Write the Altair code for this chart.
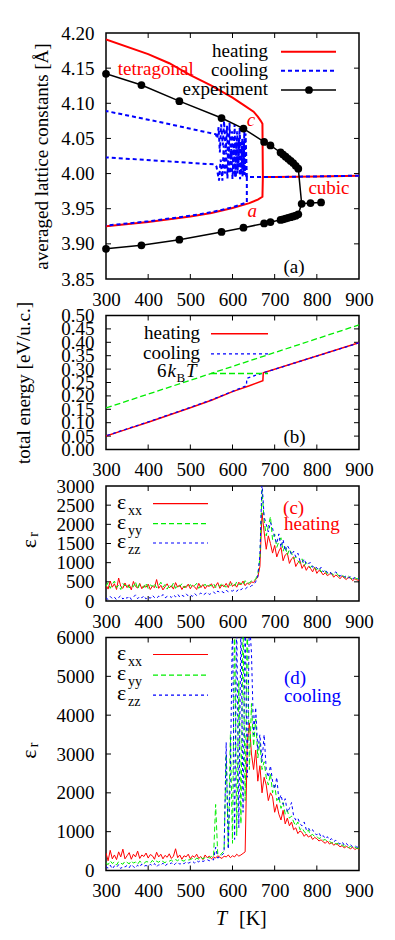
import altair as alt
import pandas as pd

FONT = "Liberation Serif"
W = 253
HA, HB, HC, HD = 246, 134, 115, 233
RED, GREEN, BLUE, BLACK = "#ff0000", "#00ee00", "#0000ff", "#000000"
TICK = 5

# ---------------- tick values ----------------
T_TICKS = [300, 400, 500, 600, 700, 800, 900]
A_TICKS = [3.85, 3.90, 3.95, 4.00, 4.05, 4.10, 4.15, 4.20]
B_TICKS = [0.00, 0.05, 0.10, 0.15, 0.20, 0.25, 0.30, 0.35, 0.40, 0.45, 0.50]
C_TICKS = [0, 500, 1000, 1500, 2000, 2500, 3000]
D_TICKS = [0, 1000, 2000, 3000, 4000, 5000, 6000]

# ---------------- panel (a): lattice constants ----------------
HEAT_C_T = [300, 400, 450, 500, 550, 600, 625, 650, 660, 667, 671, 672, 700, 800, 900]
HEAT_C_V = [4.191, 4.170, 4.157, 4.140, 4.125, 4.108, 4.098, 4.088, 4.081, 4.075, 4.071, 3.995, 3.995, 3.996, 3.997]
HEAT_A_T = [300, 400, 500, 550, 600, 640, 660, 671, 672]
HEAT_A_V = [3.925, 3.931, 3.939, 3.944, 3.951, 3.958, 3.963, 3.967, 3.995]

COOL_1_T = [634, 630, 628, 626, 623, 620, 617, 614, 611, 608, 605, 602, 599, 596, 593, 590,
            587, 584, 580, 577, 573, 570, 567, 564, 560, 430, 300]
COOL_1_V = [3.995, 4.000, 4.060, 4.000, 4.050, 3.998, 4.065, 4.010, 4.060, 3.995, 4.070, 4.000,
            4.060, 4.020, 4.072, 4.000, 4.068, 4.030, 4.075, 4.040, 4.070, 4.030, 4.066, 4.050,
            4.056, 4.073, 4.089]
COOL_2_T = [634, 631, 629, 627, 624, 621, 618, 615, 612, 609, 606, 603, 600, 597, 594, 591,
            588, 585, 582, 579, 576, 572, 568, 565, 562, 558, 430, 300]
COOL_2_V = [3.995, 4.057, 3.998, 4.045, 3.995, 4.040, 3.992, 4.050, 4.000, 4.045, 3.995, 4.040,
            3.992, 4.035, 4.000, 4.045, 3.993, 4.030, 4.000, 4.040, 3.990, 4.020, 3.990, 4.000,
            4.010, 4.013, 4.018, 4.023]
COOL_3_T = [900, 800, 700, 634, 634, 600, 550, 500, 400, 300]
COOL_3_V = [3.997, 3.996, 3.995, 3.995, 3.959, 3.952, 3.945, 3.940, 3.932, 3.926]

EXP_UP_T = [300, 384, 474, 574, 626, 675, 690, 714, 720, 726, 732, 738, 744, 750, 756]
EXP_UP_V = [4.142, 4.126, 4.103, 4.079, 4.064, 4.045, 4.040, 4.030, 4.027, 4.024, 4.021, 4.018, 4.015, 4.011, 4.007]
EXP_LO_T = [300, 384, 474, 574, 626, 675, 690, 714, 720, 726, 732, 738, 744, 750, 756]
EXP_LO_V = [3.893, 3.898, 3.906, 3.917, 3.923, 3.929, 3.931, 3.934, 3.935, 3.936, 3.937, 3.938, 3.939, 3.940, 3.942]
EXP_CUB_T = [764, 785, 810]
EXP_CUB_V = [3.957, 3.958, 3.959]

# ---------------- panel (b): total energy ----------------
E_HEAT_T = [300, 350, 400, 450, 500, 550, 600, 640, 672, 673, 900]
E_HEAT_V = [0.050, 0.076, 0.102, 0.129, 0.156, 0.184, 0.216, 0.238, 0.257, 0.286, 0.398]
E_COOL_T = [900, 673, 634, 633, 600, 550, 500, 450, 400, 350, 300]
E_COOL_V = [0.398, 0.286, 0.266, 0.238, 0.217, 0.185, 0.157, 0.130, 0.103, 0.077, 0.051]
E_KT_T = [300, 900]
E_KT_V = [0.155, 0.465]

# ---------------- panels (c), (d): dielectric constants ----------------
T_EPS = list(range(300, 905, 5))

C_XX = [420, 310, 520, 360, 450, 300, 600, 380, 330, 470,
        350, 430, 290, 510, 380, 340, 460, 320, 400, 360,
        440, 300, 390, 350, 560, 330, 410, 290, 370, 450,
        340, 400, 310, 480, 360, 420, 300, 390, 350, 440,
        320, 410, 370, 300, 460, 350, 430, 320, 400, 380,
        450, 340, 390, 480, 330, 420, 370, 460, 350, 510,
        380, 440, 360, 490, 420, 520, 400, 470, 430, 500,
        480, 560, 620, 900, 2300, 1800, 1350, 1700, 1500, 1250,
        1450, 1150, 1300, 1400, 1050, 1200, 1250, 980, 1100, 1150,
        900, 1000, 1050, 850, 950, 800, 900, 850, 760, 880,
        720, 800, 760, 680, 740, 660, 700, 720, 620, 680,
        640, 580, 650, 600, 560, 620, 590, 530, 580, 550,
        540]
C_YY = [380, 480, 330, 440, 520, 350, 410, 300, 460, 390,
        450, 340, 420, 370, 500, 310, 440, 390, 350, 470,
        330, 420, 380, 460, 340, 400, 490, 360, 430, 310,
        410, 360, 470, 330, 420, 380, 450, 340, 400, 370,
        430, 350, 400, 460, 330, 410, 380, 440, 360, 420,
        390, 460, 350, 420, 380, 470, 400, 360, 440, 410,
        460, 390, 500, 420, 470, 410, 530, 450, 480, 520,
        510, 580, 700, 1100, 2900, 2100, 1700, 1950, 2200, 1600,
        1750, 1400, 1550, 1650, 1300, 1450, 1200, 1350, 1250, 1100,
        1150, 1050, 980, 1100, 920, 1000, 950, 870, 930, 850,
        820, 880, 760, 800, 780, 700, 760, 720, 680, 730,
        690, 620, 660, 640, 590, 650, 600, 560, 610, 580,
        580]
C_ZZ = [80, 40, 120, 60, 100, 30, 90, 140, 50, 110,
        70, 130, 40, 100, 160, 60, 120, 80, 140, 50,
        110, 70, 150, 90, 60, 130, 100, 170, 80, 120,
        140, 90, 160, 110, 180, 100, 150, 120, 190, 130,
        160, 120, 200, 140, 170, 210, 150, 190, 230, 170,
        200, 240, 180, 260, 220, 250, 210, 280, 240, 270,
        260, 300, 250, 320, 290, 340, 310, 360, 350, 400,
        420, 500, 650, 1200, 3100, 2200, 2000, 1800, 2050, 1900,
        1650, 1500, 1750, 1400, 1600, 1300, 1450, 1350, 1200, 1300,
        1150, 1250, 1050, 1000, 1100, 950, 980, 1000, 880, 920,
        860, 800, 880, 760, 820, 740, 780, 700, 720, 760,
        700, 650, 680, 620, 660, 600, 640, 580, 610, 590,
        580]

D_XX = [450, 250, 520, 300, 400, 280, 480, 350, 550, 300,
        380, 460, 290, 420, 350, 500, 310, 400, 360, 450,
        320, 410, 380, 290, 470, 350, 420, 300, 390, 340,
        430, 310, 370, 560, 330, 400, 290, 380, 350, 420,
        300, 380, 340, 420, 310, 360, 280, 400, 330, 370,
        300, 350, 320, 380, 340, 310, 370, 350, 400, 330,
        380, 350, 420, 370, 400, 440, 480, 3300, 3800, 3000,
        2600, 3100, 2300, 2700, 2000, 2400, 2200, 1800, 2000, 1900,
        1500, 1700, 1450, 1300, 1550, 1200, 1350, 1150, 1250, 1050,
        1100, 950, 1020, 980, 880, 940, 860, 900, 800, 850,
        820, 760, 790, 740, 700, 760, 680, 720, 650, 690,
        660, 610, 640, 580, 620, 590, 560, 600, 540, 570,
        550]
D_YY = [200, 150, 250, 180, 220, 140, 230, 190, 160, 240,
        210, 170, 250, 190, 220, 160, 240, 200, 180, 230,
        220, 190, 260, 200, 240, 210, 270, 230, 200, 250,
        240, 270, 220, 280, 250, 300, 260, 240, 290, 270,
        280, 310, 260, 320, 290, 340, 300, 330, 350, 320,
        360, 340, 1700, 420, 380, 450, 500, 3000, 600, 3500,
        700, 6500, 900, 4900, 1200, 6500, 1800, 6500, 2600, 4300,
        3200, 3900, 2900, 3300, 2600, 2800, 2400, 2200, 2500, 2000,
        2200, 1800, 1900, 1600, 1750, 1450, 1550, 1350, 1400, 1250,
        1150, 1250, 1050, 1100, 1000, 950, 1050, 900, 930, 870,
        880, 820, 850, 780, 800, 740, 760, 700, 740, 680,
        700, 640, 660, 620, 650, 590, 620, 580, 600, 570,
        580]
D_ZZ = [100, 60, 140, 40, 120, 80, 150, 50, 110, 90,
        130, 70, 160, 100, 60, 140, 90, 170, 110, 130,
        100, 160, 120, 180, 90, 150, 130, 190, 110, 170,
        150, 200, 130, 180, 220, 160, 200, 170, 230, 190,
        210, 240, 190, 250, 220, 270, 230, 260, 280, 250,
        290, 270, 600, 320, 350, 400, 450, 3300, 550, 2500,
        6500, 800, 6500, 1100, 6500, 1500, 6500, 2400, 6500, 5600,
        3500, 4200, 3100, 3500, 2800, 3500, 2600, 2400, 2700, 2300,
        2100, 2400, 1800, 1950, 1700, 1850, 1500, 1600, 1750, 1400,
        1300, 1350, 1200, 1150, 1250, 1050, 1100, 1000, 1050, 950,
        920, 980, 860, 900, 820, 870, 780, 820, 740, 780,
        720, 680, 740, 650, 700, 630, 660, 610, 640, 600,
        600]

# annotations (label, T, value)
ANN_A = [("tetragonal", 328, 4.140), ("cubic", 780, 3.971)]
ANN_A_IT = [("c", 644, 4.067), ("a", 647, 3.938)]
ANN_A_TAG = [("(a)", 746, 3.858)]
ANN_B_TAG = [("(b)", 747, 0.024)]
ANN_C = [("(c)", 720, 2277), ("heating", 722, 1844)]
ANN_D = [("(d)", 722, 4815), ("cooling", 722, 4344)]

# ---------------- helpers ----------------
XS = alt.Scale(domain=[300, 900], nice=False, zero=False)
ONE = pd.DataFrame({"d": [0]})
LFS = 19

XA = alt.Axis(values=T_TICKS, format="d", ticks=False, domain=False, grid=False,
              labelFont=FONT, labelFontSize=LFS, labelColor="black", labelPadding=11,
              labelFlush=False, labelOverlap=False, title=None)


def yaxis(values, fmt, title=None, tpad=0):
    kw = dict(values=values, format=fmt, ticks=False, domain=False, grid=False,
              labelFont=FONT, labelFontSize=LFS, labelColor="black", labelPadding=12,
              labelOverlap=False, labelFlush=False)
    if title is not None:
        kw.update(title=title, titleFont=FONT, titleFontSize=19, titleFontWeight="normal",
                  titleColor="black", titlePadding=tpad)
    else:
        kw.update(title=None)
    return alt.Axis(**kw)


def series(T, v, name):
    return pd.DataFrame({"T": T, "v": v, "s": name, "i": list(range(len(T)))})


def line(df, ys, ya, color, width, dash=None):
    kw = dict(color=color, strokeWidth=width, clip=True)
    if dash:
        kw["strokeDash"] = dash
    return alt.Chart(df).mark_line(**kw).encode(
        x=alt.X("T:Q", scale=XS, axis=XA),
        y=alt.Y("v:Q", scale=ys, axis=ya),
        order="i:Q", detail="s:N")


def ticks(ys, ya, yvals, H):
    xt = pd.DataFrame({"T": T_TICKS[1:-1]})
    yt = pd.DataFrame({"v": yvals[1:-1]})
    X = alt.X("T:Q", scale=XS, axis=XA)
    Y = alt.Y("v:Q", scale=ys, axis=ya)
    r = dict(color="black", strokeWidth=1)
    return [
        alt.Chart(xt).mark_rule(**r).encode(x=X, y=alt.value(H), y2=alt.value(H - TICK)),
        alt.Chart(xt).mark_rule(**r).encode(x=X, y=alt.value(0), y2=alt.value(TICK)),
        alt.Chart(yt).mark_rule(**r).encode(y=Y, x=alt.value(0), x2=alt.value(TICK)),
        alt.Chart(yt).mark_rule(**r).encode(y=Y, x=alt.value(W - TICK), x2=alt.value(W)),
    ]


def ptext(txt, x, y, size=19, align="right", color="black", style="normal", angle=0, baseline="alphabetic"):
    return alt.Chart(ONE).mark_text(text=txt, align=align, baseline=baseline, font=FONT, fontSize=size,
                                    color=color, fontStyle=style, angle=angle).encode(
        x=alt.value(x), y=alt.value(y))


def pline(x1, x2, y, color, width, dash=None):
    kw = dict(color=color, strokeWidth=width)
    if dash:
        kw["strokeDash"] = dash
    return alt.Chart(ONE).mark_rule(**kw).encode(x=alt.value(x1), x2=alt.value(x2), y=alt.value(y))


def dtext(items, ys, ya, color, size=19, align="left", style="normal"):
    df = pd.DataFrame({"t": [a[0] for a in items], "T": [a[1] for a in items], "v": [a[2] for a in items]})
    return alt.Chart(df).mark_text(align=align, baseline="alphabetic", font=FONT, fontSize=size,
                                   color=color, fontStyle=style).encode(
        x=alt.X("T:Q", scale=XS, axis=XA), y=alt.Y("v:Q", scale=ys, axis=ya), text="t:N")


# ---------------- panel (a) ----------------
YS_A = alt.Scale(domain=[3.85, 4.20], nice=False, zero=False)
YA_A = yaxis(A_TICKS, ".2f", "averaged lattice constants [Å]", 9)
heat_a = pd.concat([series(HEAT_C_T, HEAT_C_V, "c"), series(HEAT_A_T, HEAT_A_V, "a")])
cool_a = pd.concat([series(COOL_1_T, COOL_1_V, "1"), series(COOL_2_T, COOL_2_V, "2"),
                    series(COOL_3_T, COOL_3_V, "3")])
exp_line = pd.concat([series(EXP_UP_T + EXP_CUB_T[:1], EXP_UP_V + EXP_CUB_V[:1], "up"),
                      series(EXP_LO_T + EXP_CUB_T, EXP_LO_V + EXP_CUB_V, "lo")])
exp_pts = pd.DataFrame({"T": EXP_UP_T + EXP_LO_T + EXP_CUB_T, "v": EXP_UP_V + EXP_LO_V + EXP_CUB_V})

pa = alt.layer(
    *ticks(YS_A, YA_A, A_TICKS, HA),
    line(heat_a, YS_A, YA_A, RED, 2),
    line(cool_a, YS_A, YA_A, BLUE, 2, [4, 3]),
    line(exp_line, YS_A, YA_A, BLACK, 1.5),
    alt.Chart(exp_pts).mark_circle(color=BLACK, size=60, opacity=1).encode(
        x=alt.X("T:Q", scale=XS, axis=XA), y=alt.Y("v:Q", scale=YS_A, axis=YA_A)),
    dtext(ANN_A, YS_A, YA_A, RED),
    dtext(ANN_A_IT, YS_A, YA_A, RED, align="center", style="italic"),
    dtext(ANN_A_TAG, YS_A, YA_A, BLACK, align="center"),
    ptext("heating", 162, 24), pline(175, 230, 18.7, RED, 2),
    ptext("cooling", 162, 43), pline(175, 230, 37.7, BLUE, 2, [4, 3]),
    ptext("experiment", 162, 62), pline(175, 230, 57, BLACK, 1.5),
    alt.Chart(ONE).mark_circle(color=BLACK, size=60, opacity=1).encode(x=alt.value(203), y=alt.value(57)),
).properties(width=W, height=HA)

# ---------------- panel (b) ----------------
YS_B = alt.Scale(domain=[0, 0.5], nice=False, zero=False)
YA_B = yaxis(B_TICKS, ".2f", "total energy [eV/u.c.]", 27)
pb = alt.layer(
    *ticks(YS_B, YA_B, B_TICKS, HB),
    line(series(E_KT_T, E_KT_V, "kt"), YS_B, YA_B, GREEN, 1.3, [6, 3]),
    line(series(E_HEAT_T, E_HEAT_V, "h"), YS_B, YA_B, RED, 1.5),
    line(series(E_COOL_T, E_COOL_V, "c"), YS_B, YA_B, BLUE, 1.3, [3, 3]),
    dtext(ANN_B_TAG, YS_B, YA_B, BLACK, align="center"),
    ptext("heating", 94, 23.3), pline(105, 162, 18.3, RED, 1.5),
    ptext("cooling", 94, 43.3), pline(105, 162, 38.3, BLUE, 1.3, [3, 3]),
    ptext("6", 51, 61, align="left"), ptext("k", 61.5, 61, align="left", style="italic"),
    ptext("B", 70.5, 66, size=13, align="left"), ptext("T", 80, 61, align="left", style="italic"),
    pline(105, 162, 58, GREEN, 1.3, [6, 3]),
).properties(width=W, height=HB)


# ---------------- panels (c), (d) ----------------
def eps_panel(xx, yy, zz, ys, yvals, H, ann, ann_color, rows, samp, extra=()):
    ya = yaxis(yvals, "d")
    layers = list(ticks(ys, ya, yvals, H))
    layers += [
        line(series(T_EPS, xx, "xx"), ys, ya, RED, 1),
        line(series(T_EPS, yy, "yy"), ys, ya, GREEN, 1, [5, 3]),
        line(series(T_EPS, zz, "zz"), ys, ya, BLUE, 1, [3, 3]),
        dtext(ann, ys, ya, ann_color),
    ]
    subs = ["xx", "yy", "zz"]
    cols = [(RED, None), (GREEN, [5, 3]), (BLUE, [3, 3])]
    for k in range(3):
        layers.append(ptext("ε", 11, rows[k], size=22, align="left"))
        layers.append(ptext(subs[k], 22, rows[k] + 6, size=14, align="left"))
        layers.append(pline(47, 102, samp[k], cols[k][0], 1.2, cols[k][1]))
    layers.append(ptext("ε", -77, H / 2, size=22, align="center", angle=270, baseline="middle"))
    layers.append(ptext("r", -72, H / 2 - 9, size=14, align="center", angle=270, baseline="middle"))
    layers += list(extra)
    return alt.layer(*layers).properties(width=W, height=H)


YS_C = alt.Scale(domain=[0, 3000], nice=False, zero=False)
YS_D = alt.Scale(domain=[0, 6000], nice=False, zero=False)
pc = eps_panel(C_XX, C_YY, C_ZZ, YS_C, C_TICKS, HC, ANN_C, RED, [23, 42.5, 62], [17.7, 37.7, 57])
pd_ = eps_panel(D_XX, D_YY, D_ZZ, YS_D, D_TICKS, HD, ANN_D, BLUE, [22.7, 42.5, 62], [17, 37.7, 57.7],
                extra=[
                    ptext("T", 121, 287, size=20, align="right", style="italic"),
                    ptext("[K]", 133, 287, size=20, align="left"),
                ])

chart = alt.vconcat(pa, pb, pc, pd_, spacing=36.5, bounds="flush").properties(
    padding={"left": 6, "top": 15, "right": 5, "bottom": 5}
).configure_view(stroke="black", strokeWidth=1.5)

chart.save("out.html", embed_options={"renderer": "svg", "actions": False})
